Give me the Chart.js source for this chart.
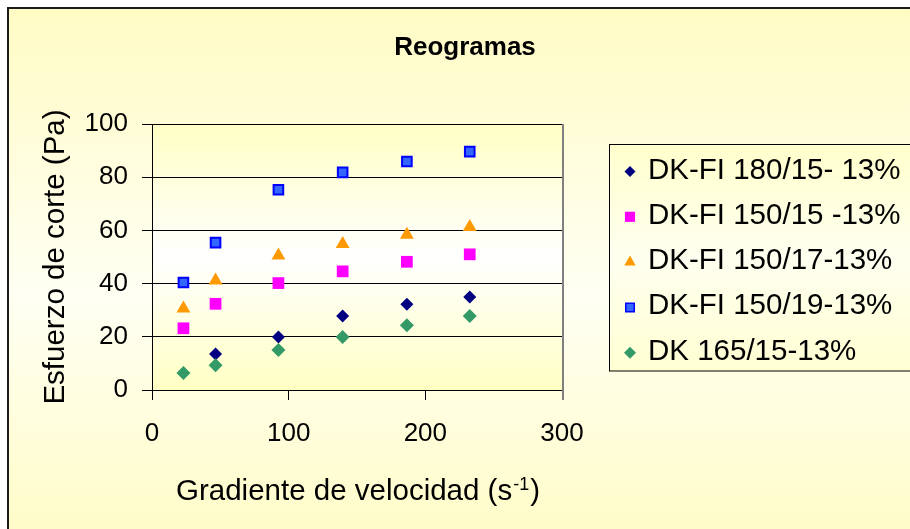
<!DOCTYPE html>
<html><head><meta charset="utf-8">
<script src="https://cdn.jsdelivr.net/npm/chart.js@4.4.0/dist/chart.umd.min.js"></script>
<style>html,body{margin:0;padding:0;background:#fff;overflow:hidden}canvas{display:block}</style>
</head><body>
<canvas id="c" width="910" height="529"></canvas>
<script>
// ---- data ----
const shearRate = [23, 46.5, 92.5, 139.5, 186.5, 232.5];
const seriesLabels = ['DK-FI 180/15- 13%', 'DK-FI 150/15 -13%', 'DK-FI 150/17-13%', 'DK-FI 150/19-13%', 'DK 165/15-13%'];
const dkfi180_15 = [null, 13.5, 19.9, 27.8, 32.2, 35.0];
const dkfi150_15 = [23.2, 32.4, 40.2, 44.6, 48.2, 51.0];
const dkfi150_17 = [30.6, 41.2, 50.6, 54.9, 58.4, 61.3];
const dkfi150_19 = [40.4, 55.4, 75.3, 81.8, 85.9, 89.6];
const dk165_15 = [6.4, 9.3, 15.0, 19.9, 24.3, 27.8];
const xTicks = [0, 100, 200, 300];
const yTicks = [0, 20, 40, 60, 80, 100];
const chartTitle = 'Reogramas';
const yTitle = 'Esfuerzo de corte (Pa)';
const xTitleMain = 'Gradiente de velocidad (s';
const xTitleSup = '-1';
const xTitleEnd = ')';

// ---- styles ----
const FONT = '"Liberation Sans", Arial, sans-serif';
const seriesValues = [dkfi180_15, dkfi150_15, dkfi150_17, dkfi150_19, dk165_15];
const styles = [
  {pointStyle: 'rectRot', fill: '#000080', border: '#000080', r: 6.5, bw: 0, lr: 5.5, lbw: 0},
  {pointStyle: 'rect', fill: '#FF00FF', border: '#FF00FF', r: 8.3, bw: 0, lr: 7.2, lbw: 0},
  {pointStyle: 'triangle', fill: '#FF9900', border: '#FF9900', r: 8, bw: 0, lr: 6.6, lbw: 0},
  {pointStyle: 'rect', fill: '#3366FF', border: '#0000FF', r: 6.8, bw: 2, lr: 6, lbw: 1.5},
  {pointStyle: 'rectRot', fill: '#339966', border: '#339966', r: 7, bw: 0, lr: 6, lbw: 0}
];

const datasets = seriesValues.map((vals, i) => ({
  label: seriesLabels[i],
  data: shearRate.map((x, j) => ({x: x, y: vals[j]})).filter(p => p.y !== null),
  showLine: false,
  pointStyle: styles[i].pointStyle,
  pointRadius: styles[i].r,
  pointHoverRadius: styles[i].r,
  pointBackgroundColor: styles[i].fill,
  pointBorderColor: styles[i].border,
  pointBorderWidth: styles[i].bw,
  backgroundColor: styles[i].fill,
  borderColor: styles[i].border,
  order: -i
}));

function vGrad(ctx, y0, y1, stops) {
  const g = ctx.createLinearGradient(0, y0, 0, y1);
  stops.forEach(s => g.addColorStop(s[0], s[1]));
  return g;
}

const decorPlugin = {
  id: 'decor',
  beforeDraw(chart) {
    const ctx = chart.ctx, a = chart.chartArea;
    ctx.save();
    ctx.fillStyle = '#ffffff';
    ctx.fillRect(0, 0, chart.width, chart.height);
    ctx.fillStyle = vGrad(ctx, 8, 529, [[0, '#FFFBC4'], [0.55, '#FFFFF3'], [1, '#FFFCC9']]);
    ctx.fillRect(8, 8, chart.width - 8, chart.height - 8);
    ctx.strokeStyle = '#1a1a1a';
    ctx.lineWidth = 2;
    ctx.beginPath();
    ctx.moveTo(8, chart.height + 2); ctx.lineTo(8, 8); ctx.lineTo(chart.width + 2, 8);
    ctx.stroke();
    ctx.fillStyle = vGrad(ctx, a.top, a.bottom, [[0, '#FFFFC4'], [0.5, '#FFFFFF'], [1, '#FFFFC4']]);
    ctx.fillRect(a.left, a.top, a.right - a.left, a.bottom - a.top);
    ctx.restore();
  },
  beforeDatasetsDraw(chart) {
    const ctx = chart.ctx, a = chart.chartArea;
    ctx.save();
    ctx.strokeStyle = '#808080';
    ctx.lineWidth = 2;
    ctx.beginPath();
    ctx.moveTo(a.right + 1, a.top); ctx.lineTo(a.right + 1, a.bottom + 10);
    ctx.stroke();
    ctx.restore();
  },
  afterDraw(chart) {
    const ctx = chart.ctx, a = chart.chartArea;
    ctx.save();
    // title
    ctx.fillStyle = '#000';
    ctx.textBaseline = 'alphabetic';
    ctx.textAlign = 'center';
    ctx.font = 'bold 26px ' + FONT;
    ctx.fillText(chartTitle, 465, 55);
    // x axis title with superscript
    ctx.textAlign = 'left';
    ctx.font = '29.5px ' + FONT;
    const w1 = ctx.measureText(xTitleMain).width;
    const w3 = ctx.measureText(xTitleEnd).width;
    ctx.font = '18px ' + FONT;
    const w2 = ctx.measureText(xTitleSup).width;
    let x0 = (a.left + a.right) / 2 - (w1 + w2 + w3) / 2;
    ctx.font = '29.5px ' + FONT;
    ctx.fillText(xTitleMain, x0, 499.5);
    ctx.font = '18px ' + FONT;
    ctx.fillText(xTitleSup, x0 + w1 + 1, 490);
    ctx.font = '29.5px ' + FONT;
    ctx.fillText(xTitleEnd, x0 + w1 + w2 + 2, 499.5);
    // legend
    const lx = 609.5, ly = 144.5, lw = 320, lh = 226.5;
    ctx.fillStyle = vGrad(ctx, ly, ly + lh, [[0, '#FFFFCC'], [0.5, '#FFFFF0'], [1, '#FFFFD2']]);
    ctx.fillRect(lx, ly, lw, lh);
    ctx.strokeStyle = '#000';
    ctx.lineWidth = 1;
    ctx.strokeRect(lx, ly, lw, lh);
    chart.data.datasets.forEach((ds, i) => {
      const base = 178.5 + 45.3 * i;
      const st = styles[i];
      ctx.fillStyle = st.fill;
      ctx.strokeStyle = st.border;
      ctx.lineWidth = st.lbw;
      Chart.helpers.drawPoint(ctx, {pointStyle: st.pointStyle, rotation: 0, radius: st.lr, borderWidth: st.lbw}, 630, base - 7);
      ctx.fillStyle = '#000';
      ctx.font = '29.5px ' + FONT;
      ctx.textAlign = 'left';
      ctx.fillText(ds.label, 648, base);
    });
    ctx.restore();
  }
};

Chart.defaults.font.family = FONT;
new Chart(document.getElementById('c'), {
  type: 'scatter',
  data: {datasets: datasets},
  options: {
    responsive: false,
    devicePixelRatio: 1,
    animation: false,
    layout: {padding: {left: 8, top: 124, right: 348, bottom: 0}},
    plugins: {legend: {display: false}, tooltip: {enabled: false}, title: {display: false}},
    scales: {
      x: {
        type: 'linear', min: 0, max: 300,
        afterBuildTicks: s => { s.ticks = xTicks.map(v => ({value: v})); },
        afterFit: s => { s.height = 139; },
        grid: {drawOnChartArea: false, drawTicks: true, tickLength: 10, tickColor: '#000', color: '#000'},
        border: {display: true, color: '#000', width: 1},
        ticks: {font: {size: 26}, color: '#000', padding: 18, maxRotation: 0, autoSkip: false}
      },
      y: {
        type: 'linear', min: 0, max: 100,
        afterBuildTicks: s => { s.ticks = yTicks.map(v => ({value: v})); },
        afterFit: s => { s.width = 144; },
        grid: {drawOnChartArea: true, drawTicks: true, tickLength: 10, tickColor: '#000', color: '#000', lineWidth: 1},
        border: {display: true, color: '#000', width: 1},
        ticks: {font: {size: 26}, color: '#000', padding: 14, autoSkip: false},
        title: {display: true, text: yTitle, font: {size: 29.5}, color: '#000', padding: {top: 30, bottom: 0}}
      }
    }
  },
  plugins: [decorPlugin]
});
</script>
</body></html>
